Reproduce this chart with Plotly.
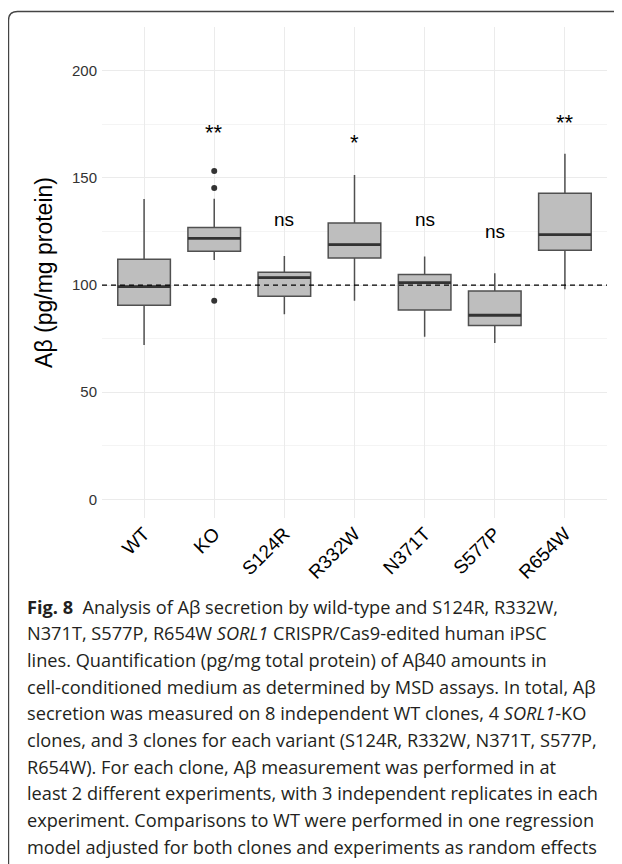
import plotly.graph_objects as go

# ---- data ----
categories = ["WT", "KO", "S124R", "R332W", "N371T", "S577P", "R654W"]
lower_whisker = [72.0, 111.7, 86.4, 92.7, 75.9, 73.0, 98.0]
q1 = [90.6, 115.8, 94.8, 112.6, 88.4, 81.1, 116.2]
median = [99.3, 121.8, 103.5, 118.9, 101.1, 85.9, 123.5]
q3 = [112.0, 126.8, 106.0, 129.0, 104.9, 97.2, 142.8]
upper_whisker = [140.2, 140.3, 113.6, 151.4, 113.3, 105.5, 161.3]
outlier_cat = ["KO", "KO", "KO"]
outlier_val = [153.2, 145.3, 92.7]
sig_labels = ["", "**", "ns", "*", "ns", "ns", "**"]
sig_y = [None, 173.2, 129.6, 168.2, 129.6, 124.2, 177.8]
ref_value = 100
y_ticks = [0, 50, 100, 150, 200]

caption_lines = [
    "<b>Fig. 8</b>  Analysis of Aβ secretion by wild-type and S124R, R332W,",
    "N371T, S577P, R654W <i>SORL1</i> CRISPR/Cas9-edited human iPSC",
    "lines. Quantification (pg/mg total protein) of Aβ40 amounts in",
    "cell-conditioned medium as determined by MSD assays. In total, Aβ",
    "secretion was measured on 8 independent WT clones, 4 <i>SORL1</i>-KO",
    "clones, and 3 clones for each variant (S124R, R332W, N371T, S577P,",
    "R654W). For each clone, Aβ measurement was performed in at",
    "least 2 different experiments, with 3 independent replicates in each",
    "experiment. Comparisons to WT were performed in one regression",
    "model adjusted for both clones and experiments as random effects",
]

# ---- layout geometry (screen pixels; page body has an 8px margin) ----
OFF = 8
W, H = 622 - OFF, 864 - OFF
PL, PR, PT, PB = 102, 607, 27, 518          # plot area on screen
L, R, T = PL - OFF, W - (PR - OFF), PT - OFF
B = H - (PB - OFF)
PW, PH = W - L - R, H - T - B


def px(x):
    return (x - OFF - L) / PW


def py(y):
    return (PB - y) / PH


idx = list(range(len(categories)))
BOX_W = 0.75

fig = go.Figure()
fig.add_trace(go.Box(
    x=idx, q1=q1, median=median, q3=q3,
    lowerfence=lower_whisker, upperfence=upper_whisker,
    width=BOX_W, whiskerwidth=0,
    fillcolor="#BEBEBE", line=dict(color="#505050", width=1.5),
    boxpoints=False, hoverinfo="skip", showlegend=False,
))

# thicker median lines
mx, my = [], []
for i, m in zip(idx, median):
    mx += [i - BOX_W / 2, i + BOX_W / 2, None]
    my += [m, m, None]
fig.add_trace(go.Scatter(x=mx, y=my, mode="lines",
                         line=dict(color="#333333", width=2.8),
                         showlegend=False, hoverinfo="skip"))

# outliers
fig.add_trace(go.Scatter(
    x=[categories.index(c) for c in outlier_cat], y=outlier_val,
    mode="markers", marker=dict(color="#333333", size=6),
    showlegend=False, hoverinfo="skip"))

# dashed reference line
fig.add_hline(y=ref_value, line=dict(color="black", width=1.2, dash="5px,4px"),
              layer="above")

# significance labels
for i, (lab, yv) in enumerate(zip(sig_labels, sig_y)):
    if lab:
        star = lab.startswith("*")
        fig.add_annotation(x=i, y=yv, text=lab, showarrow=False,
                           yshift=-4 if star else 2,
                           font=dict(family="Liberation Sans", size=22 if star else 19,
                                     color="black"))

# caption
cap_top = 606.7
cap_step = 26.67
for k, line in enumerate(caption_lines):
    fig.add_annotation(xref="paper", yref="paper", x=px(24.5), y=py(cap_top + k * cap_step),
                       xanchor="left", yanchor="middle", text=line, showarrow=False,
                       font=dict(family="Open Sans", size=18.2, color="#231f20"))

# rounded frame
x0, y0, x1, y1, r = 8.5, 11.5, 660, 900, 9
path = (f"M {px(x0)},{py(y1)} L {px(x0)},{py(y0 + r)} "
        f"Q {px(x0)},{py(y0)} {px(x0 + r)},{py(y0)} L {px(x1)},{py(y0)}")
fig.add_shape(type="path", path=path, xref="paper", yref="paper",
              line=dict(color="#444444", width=1.4))

fig.update_layout(
    width=W, height=H,
    margin=dict(l=L, r=R, t=T, b=B),
    paper_bgcolor="white", plot_bgcolor="white",
    font=dict(family="Liberation Sans", color="black"),
    xaxis=dict(
        range=[-0.6, len(categories) - 0.4],
        tickvals=idx, ticktext=categories, tickangle=-45,
        tickfont=dict(size=19, color="black"),
        showgrid=True, gridcolor="#EBEBEB", gridwidth=1,
        zeroline=False, showline=False, ticks="",
    ),
    yaxis=dict(
        range=[-8.7, 220.4],
        tickvals=y_ticks,
        tickfont=dict(size=15, color="#333333"),
        ticklabelstandoff=4,
        showgrid=True, gridcolor="#EBEBEB", gridwidth=1,
        minor=dict(dtick=25, tick0=25, showgrid=True, gridcolor="#F4F4F4", gridwidth=0.8),
        zeroline=False, showline=False, ticks="",
        title=dict(text="Aβ (pg/mg protein)", font=dict(size=23, color="black"), standoff=12),
    ),
)

fig.write_html("out.html")
